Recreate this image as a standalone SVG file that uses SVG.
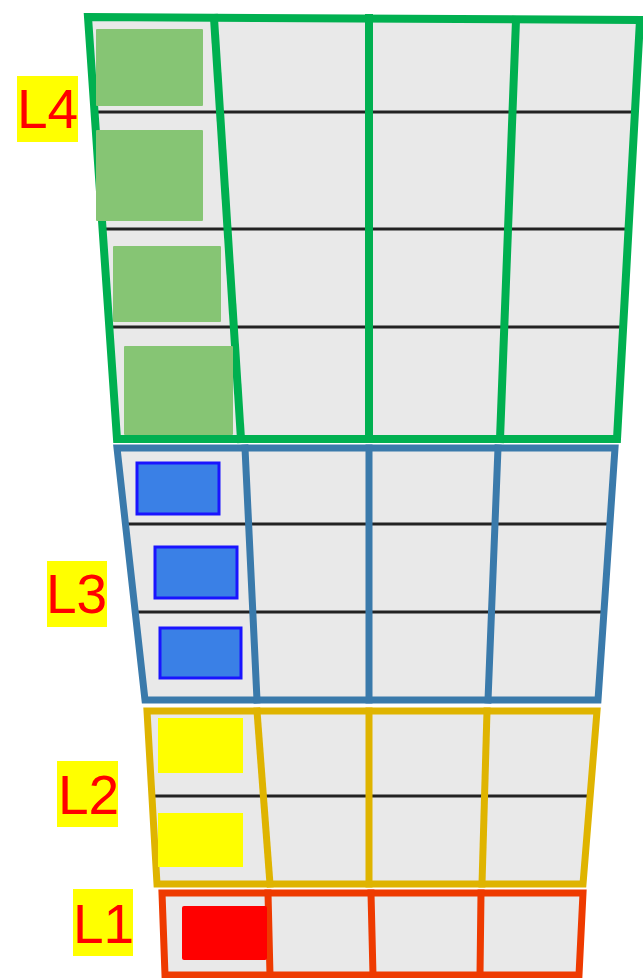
<svg xmlns="http://www.w3.org/2000/svg" width="643" height="978" viewBox="0 0 643 978">
<style>
.cell{fill:#e9e9e9;stroke:none}
.row{stroke:#222;stroke-width:3;fill:none}
.edge{fill:none;stroke-linejoin:miter;stroke-linecap:square}
.g{stroke:#00b050;stroke-width:8}
.b{stroke:#3a7aab;stroke-width:7}
.y{stroke:#dfb400;stroke-width:7}
.r{stroke:#ee3a00;stroke-width:7}
.sqg{fill:#86c574}
.sqb{fill:#3a80e6;stroke:#1a14ff;stroke-width:3}
.sqy{fill:#ffff00}
.sqr{fill:#ff0000}
.lblbg{fill:#ffff00}
.lbl{font-family:"Liberation Sans",Arial,sans-serif;font-size:55px;fill:#ff0000}
</style>
<rect width="643" height="978" fill="#ffffff"/>

<g id="layer-L4">
<polygon class="cell" points="88,17 640,20 617,439 117,439"/>
<line class="row" x1="94" y1="112" x2="635" y2="112"/>
<line class="row" x1="102" y1="229" x2="628" y2="229"/>
<line class="row" x1="109" y1="327" x2="623" y2="327"/>
<polygon class="edge g" points="88,17 640,20 617,439 117,439"/>
<line class="edge g" x1="214" y1="18" x2="241" y2="439"/>
<line class="edge g" x1="369" y1="18" x2="369" y2="439"/>
<line class="edge g" x1="516" y1="20" x2="500" y2="439"/>
<rect class="sqg" x="96" y="29" width="107" height="77" rx="1"/>
<rect class="sqg" x="96" y="130" width="107" height="91" rx="1"/>
<rect class="sqg" x="113" y="246" width="108" height="76" rx="1"/>
<rect class="sqg" x="124" y="346" width="109" height="89" rx="1"/>
</g>

<g id="layer-L3">
<polygon class="cell" points="117,448 615,448 598,700 145,700"/>
<line class="row" x1="125" y1="524" x2="610" y2="524"/>
<line class="row" x1="135" y1="612" x2="604" y2="612"/>
<polygon class="edge b" points="117,448 615,448 598,700 145,700"/>
<line class="edge b" x1="245" y1="448" x2="257" y2="700"/>
<line class="edge b" x1="369" y1="448" x2="369" y2="700"/>
<line class="edge b" x1="498" y1="448" x2="488" y2="700"/>
<rect class="sqb" x="137" y="463" width="82" height="51"/>
<rect class="sqb" x="155" y="547" width="82" height="51"/>
<rect class="sqb" x="160" y="628" width="81" height="50"/>
</g>

<g id="layer-L2">
<polygon class="cell" points="147,711 597,711 583,884 157,884"/>
<line class="row" x1="153" y1="796" x2="590" y2="796"/>
<polygon class="edge y" points="147,711 597,711 583,884 157,884"/>
<line class="edge y" x1="257" y1="711" x2="270" y2="884"/>
<line class="edge y" x1="369" y1="711" x2="369" y2="884"/>
<line class="edge y" x1="487" y1="711" x2="482" y2="884"/>
<rect class="sqy" x="158" y="718" width="85" height="55"/>
<rect class="sqy" x="158" y="813" width="85" height="54"/>
</g>

<g id="layer-L1">
<polygon class="cell" points="162,893 583,893 579,975 165,975"/>
<polygon class="edge r" points="162,893 583,893 579,975 165,975"/>
<line class="edge r" x1="268" y1="893" x2="270" y2="975"/>
<line class="edge r" x1="371" y1="893" x2="373" y2="975"/>
<line class="edge r" x1="481" y1="893" x2="480" y2="975"/>
<rect class="sqr" x="182" y="906" width="85" height="54" rx="2"/>
</g>

<g id="labels">
<g id="label-L4"><rect class="lblbg" x="17" y="76" width="61" height="66"/><text class="lbl" x="17" y="128">L4</text></g>
<g id="label-L3"><rect class="lblbg" x="47" y="561" width="60" height="66"/><text class="lbl" x="46" y="613">L3</text></g>
<g id="label-L2"><rect class="lblbg" x="57" y="761" width="61" height="66"/><text class="lbl" x="58" y="814">L2</text></g>
<g id="label-L1"><rect class="lblbg" x="73" y="889" width="60" height="67"/><text class="lbl" x="73" y="943">L1</text></g>
</g>
</svg>
